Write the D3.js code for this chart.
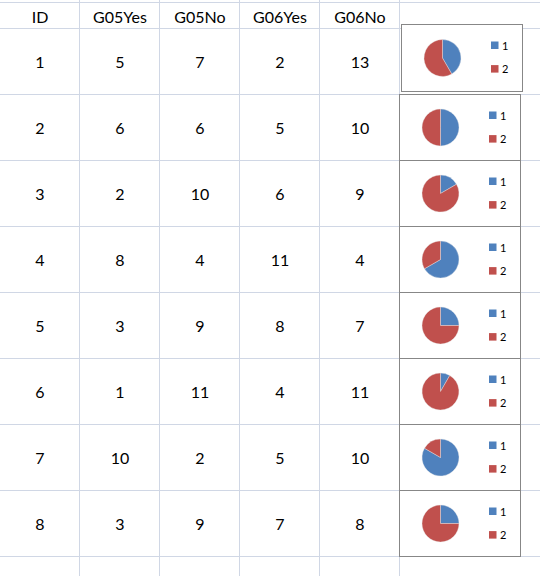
<!DOCTYPE html>
<html>
<head>
<meta charset="utf-8">
<script src="https://cdn.jsdelivr.net/npm/d3@7"></script>
<style>
  body { margin: 0; background: #fff; }
  svg { display: block; }
</style>
</head>
<body>
<div id="sheet"></div>
<script>
// column headers and values
var headers = ["ID", "G05Yes", "G05No", "G06Yes", "G06No"];
var ids    = [1, 2, 3, 4, 5, 6, 7, 8];
var g05Yes = [5, 6, 2, 8, 3, 1, 10, 3];
var g05No  = [7, 6, 10, 4, 9, 11, 2, 9];
var g06Yes = [2, 5, 6, 11, 8, 4, 5, 7];
var g06No  = [13, 10, 9, 4, 7, 11, 10, 8];
var legendLabels = ["1", "2"];

function main() {
    var width = 540, height = 576;
    var colW = 80, rowH = 66, headTop = 2.5, headBottom = 28.5;

    var svg = d3.select("#sheet")
        .append("svg")
        .attr("width", width)
        .attr("height", height);

    var rows = ids.map(function (d, i) {
        return [d, g05Yes[i], g05No[i], g06Yes[i], g06No[i]];
    });

    // column scale (5 data columns + chart column)
    var x = d3.scaleLinear().domain([0, 1]).range([0, colW]);
    // row scale: row index -> top of the row
    var y = d3.scaleLinear().domain([0, 1]).range([headBottom, headBottom + rowH]);

    // gridlines
    var grid = svg.append("g")
        .attr("stroke", "#d0d7e5")
        .attr("stroke-width", 1);

    d3.range(1, 6).forEach(function (c) {
        grid.append("line")
            .attr("x1", x(c) - 0.5).attr("x2", x(c) - 0.5)
            .attr("y1", 0).attr("y2", height);
    });
    grid.append("line")
        .attr("x1", 0).attr("x2", width)
        .attr("y1", headTop).attr("y2", headTop);
    d3.range(0, ids.length + 1).forEach(function (r) {
        grid.append("line")
            .attr("x1", 0).attr("x2", width)
            .attr("y1", y(r)).attr("y2", y(r));
    });

    // header text
    svg.append("g")
        .selectAll("text")
        .data(headers)
        .join("text")
        .attr("x", function (d, i) { return x(i + 0.5); })
        .attr("y", 23)
        .attr("text-anchor", "middle")
        .attr("font-family", "Lato, 'Open Sans', sans-serif")
        .attr("font-size", "16px")
        .attr("fill", "#000")
        .text(function (d) { return d; });

    // cell values
    var rowG = svg.append("g")
        .selectAll("g")
        .data(rows)
        .join("g");

    rowG.selectAll("text")
        .data(function (d) { return d; })
        .join("text")
        .attr("x", function (d, i) { return x(i + 0.5); })
        .attr("y", function (d, i, nodes) {
            var r = rows.indexOf(d3.select(nodes[i].parentNode).datum());
            return y(r + 0.5) + 6;
        })
        .attr("text-anchor", "middle")
        .attr("font-family", "Lato, 'Open Sans', sans-serif")
        .attr("font-size", "16px")
        .attr("fill", "#000")
        .text(function (d) { return d; });

    // small pie charts, one per row (G05Yes vs G05No)
    var color = d3.scaleOrdinal()
        .domain(legendLabels)
        .range(["#4f81bd", "#c0504d"]);

    var pie = d3.pie().sort(null);
    var arc = d3.arc().innerRadius(0).outerRadius(18.5);

    ids.forEach(function (d, i) {
        // first chart sits slightly off the grid, like in the sheet
        var bx = i === 0 ? 401.5 : x(5) - 0.5;
        var by = i === 0 ? 24.5 : y(i);
        var bw = 121, bh = i === 0 ? 67 : rowH;

        var box = svg.append("g")
            .attr("transform", "translate(" + bx + "," + by + ")");

        box.append("rect")
            .attr("width", bw)
            .attr("height", bh)
            .attr("fill", "#fff")
            .attr("stroke", "#878787")
            .attr("stroke-width", 1);

        var pieG = box.append("g")
            .attr("transform", "translate(41," + (bh / 2) + ")");

        pieG.selectAll("path")
            .data(pie([g05Yes[i], g05No[i]]))
            .join("path")
            .attr("d", arc)
            .attr("fill", function (p, k) { return color(legendLabels[k]); })
            .attr("stroke", "#e8e8e8")
            .attr("stroke-width", 0.4);

        var leg = box.append("g")
            .selectAll("g")
            .data(legendLabels)
            .join("g")
            .attr("transform", function (l, k) {
                return "translate(89.5," + (17 + k * 23.6) + ")";
            });

        leg.append("rect")
            .attr("width", 7.5)
            .attr("height", 7.5)
            .attr("fill", function (l) { return color(l); });

        leg.append("text")
            .attr("x", 11)
            .attr("y", 8)
            .attr("font-family", "Lato, 'Open Sans', sans-serif")
            .attr("font-size", "11px")
            .attr("fill", "#000")
            .text(function (l) { return l; });
    });
}

main()
</script>
</body>
</html>
